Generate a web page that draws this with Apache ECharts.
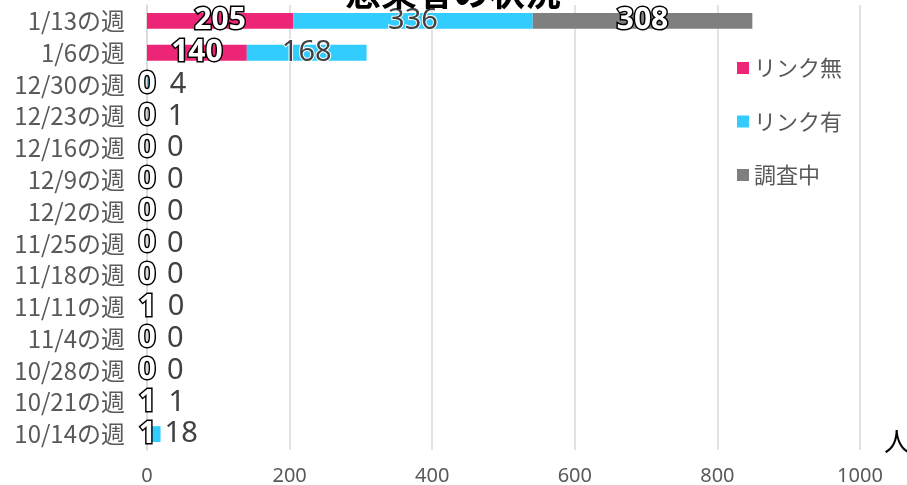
<!DOCTYPE html>
<html>
<head>
<meta charset="utf-8">
<script src="https://cdn.jsdelivr.net/npm/echarts@6/dist/echarts.min.js"></script>
<style>
  html, body { margin: 0; padding: 0; background: #fff; }
  #chart { width: 907px; height: 485px; }
</style>
</head>
<body>
<div id="chart"></div>
<script>
// Weekly case counts, oldest week first (drawn bottom to top)
var weeks = ['10/14の週', '10/21の週', '10/28の週', '11/4の週', '11/11の週', '11/18の週',
  '11/25の週', '12/2の週', '12/9の週', '12/16の週', '12/23の週', '12/30の週', '1/6の週', '1/13の週'];
var noLink = [1, 1, 0, 0, 1, 0, 0, 0, 0, 0, 0, 0, 140, 205];
var withLink = [18, 1, 0, 0, 0, 0, 0, 0, 0, 0, 1, 4, 168, 336];
var underInvestigation = [null, null, null, null, null, null, null, null, null, null, null, null, null, 308];
var xTicks = [0, 200, 400, 600, 800, 1000];
var chartTitle = '感染者の状況';

var numFont = 'Noto Sans';
var cjkFont = 'Noto Sans CJK JP';

var outlinedLabel = {
  show: true,
  position: 'inside',
  fontFamily: numFont,
  fontSize: 30,
  fontWeight: 'bold',
  color: '#fff',
  textBorderColor: '#000',
  textBorderWidth: 3
};

// Small "with link" values get their label pushed to the right of the bar
var withLinkData = withLink.map(function (v) {
  if (v < 50) {
    return { value: v, label: { position: 'right', distance: v >= 10 ? 4 : 20 } };
  }
  return v;
});

var chart = echarts.init(document.getElementById('chart'), null, { renderer: 'canvas' });
chart.setOption({
  animation: false,
  backgroundColor: '#fff',
  // Title sits mostly above the top edge of the canvas
  graphic: [{
    type: 'text',
    x: 453,
    y: -26,
    z: 100,
    style: {
      text: chartTitle,
      fontFamily: cjkFont,
      fontSize: 36,
      fontWeight: 'bold',
      fill: '#000',
      align: 'center',
      verticalAlign: 'top'
    }
  }],
  legend: {
    orient: 'vertical',
    left: 737,
    top: 57,
    padding: 0,
    itemWidth: 12,
    itemHeight: 12,
    itemGap: 31.5,
    icon: 'rect',
    textStyle: { fontFamily: cjkFont, fontSize: 22, color: '#595959' },
    data: ['リンク無', 'リンク有', '調査中']
  },
  grid: { left: 147, right: 47, top: 5, bottom: 35, containLabel: false, outerBoundsMode: 'none' },
  xAxis: {
    type: 'value',
    min: xTicks[0],
    max: xTicks[xTicks.length - 1],
    interval: xTicks[1] - xTicks[0],
    name: '人',
    nameLocation: 'end',
    nameGap: 24,
    nameTextStyle: { fontFamily: cjkFont, fontSize: 26, color: '#000', verticalAlign: 'bottom', padding: [0, 0, -4, 0] },
    axisLine: { show: false },
    axisTick: { show: false },
    axisLabel: { fontFamily: numFont, fontSize: 20, color: '#595959', margin: 16, formatter: function (v) { return String(v); } },
    splitLine: { lineStyle: { color: '#d9d9d9', width: 1.5 } }
  },
  yAxis: {
    type: 'category',
    data: weeks,
    axisLine: { show: true, lineStyle: { color: '#d9d9d9', width: 1.5 } },
    axisTick: { show: false },
    axisLabel: { fontFamily: cjkFont, fontSize: 24, color: '#595959', margin: 22 }
  },
  series: [
    {
      name: 'リンク無',
      type: 'bar',
      stack: 'total',
      barWidth: '50%',
      itemStyle: { color: '#EC2577' },
      label: outlinedLabel,
      data: noLink
    },
    {
      name: 'リンク有',
      type: 'bar',
      stack: 'total',
      itemStyle: { color: '#33CCFF' },
      label: {
        show: true,
        position: 'inside',
        fontFamily: numFont,
        fontSize: 29,
        color: '#404040',
        textBorderColor: '#fff',
        textBorderWidth: 2
      },
      data: withLinkData
    },
    {
      name: '調査中',
      type: 'bar',
      stack: 'total',
      itemStyle: { color: '#7F7F7F' },
      label: outlinedLabel,
      data: underInvestigation
    }
  ]
});
</script>
</body>
</html>
